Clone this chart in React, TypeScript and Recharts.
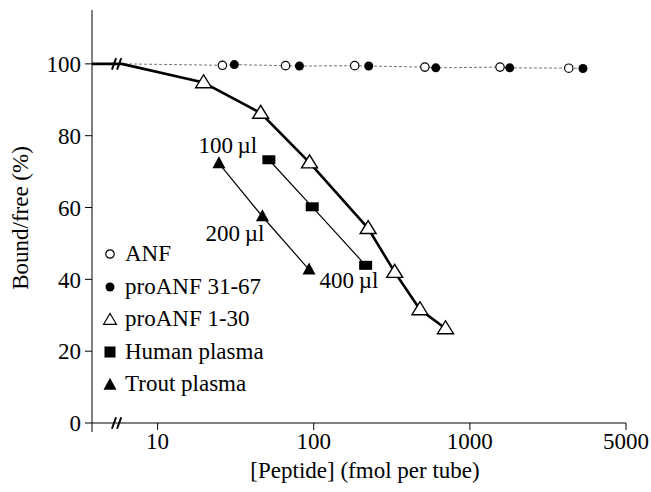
import React from "react";
import { ComposedChart, Line, XAxis, YAxis, ReferenceLine, ReferenceDot } from "recharts";

type Pt = { x: number; y: number };

// values (x in fmol per tube, y in % bound/free)
const anf: Pt[] = [
  { x: 26, y: 99.6 },
  { x: 66, y: 99.5 },
  { x: 183, y: 99.5 },
  { x: 515, y: 99.1 },
  { x: 1560, y: 99.1 },
  { x: 4300, y: 98.8 },
];
const proAnf3167: Pt[] = [
  { x: 31, y: 99.8 },
  { x: 81, y: 99.4 },
  { x: 225, y: 99.4 },
  { x: 605, y: 98.9 },
  { x: 1800, y: 98.9 },
  { x: 5300, y: 98.7 },
];
const proAnf130: Pt[] = [
  { x: 19.7, y: 94.8 },
  { x: 45.7, y: 86.3 },
  { x: 94, y: 72.5 },
  { x: 223, y: 54.2 },
  { x: 330, y: 42.0 },
  { x: 479, y: 31.6 },
  { x: 698, y: 26.3 },
];
const humanPlasma: Pt[] = [
  { x: 51.6, y: 73.3 },
  { x: 97.8, y: 60.2 },
  { x: 215, y: 43.9 },
];
const troutPlasma: Pt[] = [
  { x: 24.7, y: 72.3 },
  { x: 46.9, y: 57.5 },
  { x: 93.3, y: 42.7 },
];
// lead-in from the axis to the break, then to the first point
const proAnfLead: Pt[] = [
  { x: 3.8, y: 100 },
  { x: 5.9, y: 100 },
  proAnf130[0],
];
const circleLine: Pt[] = [{ x: 6.1, y: 100 }, ...anf, ...proAnf3167].sort((a, b) => a.x - b.x);

const xTicks = [10, 100, 1000, 10000];
const xTickLabels = ["10", "100", "1000", "5000"];
const yTicks = [0, 20, 40, 60, 80, 100];

const volumeLabels = [
  { x: 28.2, y: 77.4, text: "100\u2009\u00b5l" },
  { x: 31.3, y: 52.9, text: "200\u2009\u00b5l" },
  { x: 168, y: 39.8, text: "400\u2009\u00b5l" },
];

const legendItems = [
  { kind: "openCircle", name: "ANF" },
  { kind: "dot", name: "proANF 31-67" },
  { kind: "openTri", name: "proANF 1-30" },
  { kind: "square", name: "Human plasma" },
  { kind: "tri", name: "Trout plasma" },
];

const FONT = "'Liberation Serif', 'Times New Roman', serif";

const Marker = ({ cx, cy, kind, small }: { cx: number; cy: number; kind: string; small?: boolean }) => {
  if (cx == null || cy == null) return null;
  switch (kind) {
    case "openCircle":
      return <circle cx={cx} cy={cy} r={4.2} fill="#fff" stroke="#000" strokeWidth={1.2} />;
    case "dot":
      return <circle cx={cx} cy={cy} r={4.5} fill="#000" />;
    case "openTri": {
      const w = small ? 13 : 16, h = small ? 11 : 13;
      return (
        <polygon
          points={`${cx},${cy - h * 0.6} ${cx - w / 2},${cy + h * 0.4} ${cx + w / 2},${cy + h * 0.4}`}
          fill="#fff"
          stroke="#000"
          strokeWidth={small ? 1.1 : 1.4}
        />
      );
    }
    case "square":
      return small ? (
        <rect x={cx - 5.5} y={cy - 5.5} width={11} height={11} fill="#000" />
      ) : (
        <rect x={cx - 6.5} y={cy - 4.5} width={13} height={9} fill="#000" />
      );
    case "tri": {
      const w = 13, h = 12;
      return (
        <polygon
          points={`${cx},${cy - h * 0.6} ${cx - w / 2},${cy + h * 0.4} ${cx + w / 2},${cy + h * 0.4}`}
          fill="#000"
        />
      );
    }
  }
  return null;
};

const dotOf = (kind: string) => (p: any) => <Marker key={`${kind}-${p.index}`} cx={p.cx} cy={p.cy} kind={kind} />;

const LegendIcon = ({ kind }: { kind: string }) => (
  <svg width={18} height={18} style={{ marginRight: 6, flex: "none" }}>
    <Marker cx={9} cy={kind === "openTri" || kind === "tri" ? 10 : 9} kind={kind} small />
  </svg>
);

const breakMarks = (y: number) => [
  [{ x: 5.1, y: y - 1.6 }, { x: 5.42, y: y + 1.6 }],
  [{ x: 5.5, y: y - 1.6 }, { x: 5.85, y: y + 1.6 }],
];

export default function App() {
  return (
    <div style={{ position: "absolute", left: 0, top: 0, width: 651, height: 492, background: "#fff" }}>
      <ComposedChart width={651} height={492} margin={{ top: 10, right: 25, bottom: 0, left: 20 }}>
        <XAxis
          type="number"
          dataKey="x"
          scale="log"
          domain={[3.8, 10000]}
          allowDataOverflow
          ticks={xTicks}
          tickFormatter={(v: number) => xTickLabels[xTicks.indexOf(v)] ?? String(v)}
          height={69}
          tickSize={7}
          tickMargin={3}
          stroke="#000"
          tick={{ fill: "#000", fontSize: 23, fontFamily: FONT }}
          label={{
            content: () => (
              <text x={365} y={470} textAnchor="middle" dominantBaseline="central" fontSize={23} fontFamily={FONT} fill="#000">
                [Peptide] (fmol per tube)
              </text>
            ),
          }}
        />
        <YAxis
          type="number"
          dataKey="y"
          domain={[0, 115]}
          ticks={yTicks}
          width={72}
          tickSize={7}
          tickMargin={4}
          stroke="#000"
          tick={{ fill: "#000", fontSize: 23, fontFamily: FONT }}
          label={{
            content: () => (
              <text
                transform="translate(20,218) rotate(-90)"
                textAnchor="middle"
                dominantBaseline="central"
                fontSize={23}
                fontFamily={FONT}
                fill="#000"
              >
                Bound/free (%)
              </text>
            ),
          }}
        />
        <ReferenceLine
          segment={[{ x: 3.8, y: 0 }, { x: 3.8, y: -2.5 }]}
          ifOverflow="visible"
          stroke="#000"
          strokeWidth={1}
        />
        {[...breakMarks(0), ...breakMarks(100)].map((seg, i) => (
          <ReferenceLine key={`brk-${i}`} segment={seg} ifOverflow="visible" stroke="#000" strokeWidth={2} />
        ))}
        <Line
          data={circleLine}
          dataKey="y"
          stroke="#777"
          strokeWidth={1}
          strokeDasharray="3 2"
          dot={false}
          isAnimationActive={false}
        />
        <Line data={proAnfLead} dataKey="y" stroke="#000" strokeWidth={2.6} dot={false} isAnimationActive={false} />
        <Line data={troutPlasma} dataKey="y" stroke="#000" strokeWidth={1.2} dot={dotOf("tri")} isAnimationActive={false} />
        <Line data={humanPlasma} dataKey="y" stroke="#000" strokeWidth={1.2} dot={dotOf("square")} isAnimationActive={false} />
        <Line data={proAnf130} dataKey="y" stroke="#000" strokeWidth={2.6} dot={dotOf("openTri")} isAnimationActive={false} />
        <Line data={anf} dataKey="y" stroke="none" dot={dotOf("openCircle")} isAnimationActive={false} />
        <Line data={proAnf3167} dataKey="y" stroke="none" dot={dotOf("dot")} isAnimationActive={false} />
        {volumeLabels.map((l) => (
          <ReferenceDot
            key={l.text}
            x={l.x}
            y={l.y}
            r={1}
            fill="none"
            stroke="none"
            label={{ value: l.text, position: "center", fontSize: 23, fontFamily: FONT, fill: "#000" }}
          />
        ))}
      </ComposedChart>
      <div style={{ position: "absolute", left: 101, top: 238, fontFamily: FONT, fontSize: 23, color: "#000" }}>
        {legendItems.map((it) => (
          <div key={it.name} style={{ display: "flex", alignItems: "center", height: 32.5, whiteSpace: "nowrap" }}>
            <LegendIcon kind={it.kind} />
            <span>{it.name}</span>
          </div>
        ))}
      </div>
    </div>
  );
}
